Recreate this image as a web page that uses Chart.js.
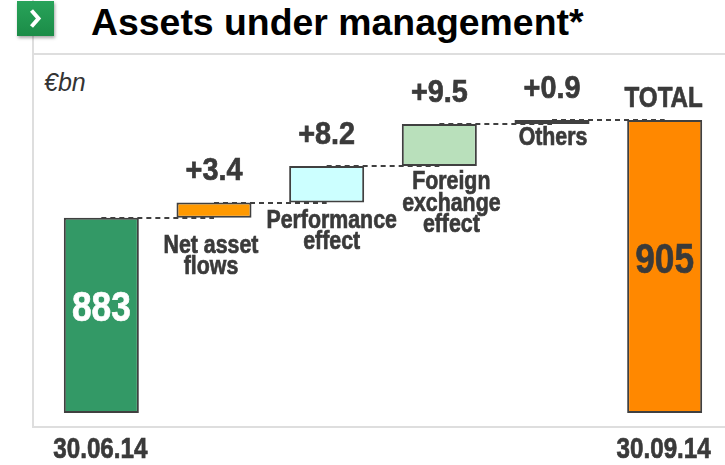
<!DOCTYPE html>
<html>
<head>
<meta charset="utf-8">
<script src="https://cdn.jsdelivr.net/npm/chart.js@4"></script>
<style>
  body { margin: 0; background: #fff; }
  #wrap { position: relative; width: 725px; height: 465px; overflow: hidden; font-family: "Liberation Sans", Arial, sans-serif; }
  .frame { position: absolute; background: #dedede; }
  #icon {
    position: absolute; left: 17px; top: 1px; width: 37px; height: 35px;
    background: linear-gradient(#28a35a, #1b8c47);
    box-shadow: 1px 2px 3px rgba(0,0,0,0.35);
  }
  #title { position: absolute; left: 91px; top: 1px; font-weight: bold; font-size: 37.4px; color: #000; white-space: nowrap; }
  #unit { position: absolute; left: 44px; top: 68px; font-style: italic; font-size: 25px; color: #333; }
  canvas { position: absolute; left: 0; top: 0; }
</style>
</head>
<body>
<div id="wrap">
  <div class="frame" style="left:32px;top:0;width:2px;height:428px"></div>
  <div class="frame" style="left:32px;top:53px;width:693px;height:2px"></div>
  <div class="frame" style="left:32px;top:426px;width:693px;height:2px"></div>
  <div id="icon"><svg width="37" height="35"><polyline points="14.5,9.5 21.5,17.5 14.5,25.5" fill="none" stroke="#fff" stroke-width="4"/></svg></div>
  <div id="title">Assets under management*</div>
  <div id="unit">€bn</div>
  <canvas id="myChart" width="725" height="465"></canvas>
</div>
<script>
// waterfall data
const categories = ["30.06.14", "Net asset flows", "Performance effect", "Foreign exchange effect", "Others", "30.09.14"];
const steps = [883, 3.4, 8.2, 9.5, 0.9, 905];
const totalBars = [true, false, false, false, false, true];
const topLabels = ["", "+3.4", "+8.2", "+9.5", "+0.9", "TOTAL"];
const nameLines = [[], ["Net asset", "flows"], ["Performance", "effect"], ["Foreign", "exchange", "effect"], ["Others"], []];
const axisMin = 839;
const axisMax = 918.5;

// styles
const barColors = ["#339966", "#ff9900", "#ccffff", "#b9e0bb", "#ff9900", "#ff8800"];
const nameGap = [0, 28, 18, 16, 14, 0];
const nameNudge = [0, -3, 5, 12, 1, 0];
const textColor = "#3a3a3a";

// no Arial Narrow here, so squeeze Liberation Sans bold instead
function fillNarrow(ctx, text, x, y, size, squeeze) {
  ctx.save();
  ctx.translate(x, y);
  ctx.scale(squeeze, 1);
  ctx.font = "bold " + size + 'px "Liberation Sans", Arial, sans-serif';
  ctx.strokeStyle = ctx.fillStyle;
  ctx.lineWidth = 0.7;
  ctx.fillText(text, 0, 0);
  ctx.strokeText(text, 0, 0);
  ctx.restore();
}

// build floating ranges from the steps
const ranges = [];
let running = 0;
steps.forEach((v, i) => {
  if (totalBars[i]) {
    ranges.push([axisMin, v]);
    running = v;
  } else {
    ranges.push([running, running + v]);
    running += v;
  }
});

const connectors = {
  id: "connectors",
  beforeDatasetsDraw(chart) {
    const ctx = chart.ctx;
    const bars = chart.getDatasetMeta(0).data;
    const y = chart.scales.y;
    ctx.save();
    ctx.strokeStyle = "#404040";
    ctx.lineWidth = 2;
    ctx.setLineDash([5, 4]);
    for (let i = 0; i < bars.length - 1; i++) {
      const py = Math.round(y.getPixelForValue(ranges[i][1]));
      ctx.beginPath();
      ctx.moveTo(bars[i].x, py);
      ctx.lineTo(bars[i + 1].x, py);
      ctx.stroke();
    }
    ctx.restore();
  },
};

const barText = {
  id: "barText",
  afterDatasetsDraw(chart) {
    const ctx = chart.ctx;
    const bars = chart.getDatasetMeta(0).data;
    ctx.save();
    ctx.textAlign = "center";
    ctx.textBaseline = "middle";
    ctx.fillStyle = textColor;
    bars.forEach((bar, i) => {
      if (totalBars[i]) {
        // big value inside the bar
        ctx.fillStyle = i == 0 ? "#ffffff" : textColor;
        fillNarrow(ctx, String(steps[i]), bar.x, i == 0 ? 309 : 261, 43, 0.82);
        ctx.fillStyle = textColor;
        // date under the frame
        fillNarrow(ctx, categories[i], bar.x - 1, 450, 29.5, 0.82);
        if (topLabels[i]) {
          fillNarrow(ctx, topLabels[i], bar.x - 1, bar.y - 21, 29.5, 0.82);
        }
      } else {
        fillNarrow(ctx, topLabels[i], bar.x, bar.y - 31, 32, 0.9);
        nameLines[i].forEach((line, k) => {
          fillNarrow(ctx, line, bar.x + nameNudge[i], bar.base + nameGap[i] + k * 21.5, 26, 0.82);
        });
      }
    });
    ctx.restore();
  },
};

const config = {
  type: "bar",
  data: {
    labels: categories,
    datasets: [
      {
        data: ranges,
        backgroundColor: barColors,
        borderColor: "#404040",
        borderWidth: 2,
        borderSkipped: false,
        categoryPercentage: 1,
        barPercentage: 0.666,
      },
    ],
  },
  options: {
    responsive: false,
    animation: false,
    devicePixelRatio: 1,
    layout: { padding: { left: 45, right: 4, top: 60, bottom: 52 } },
    plugins: {
      legend: { display: false },
      tooltip: { enabled: false },
      title: { display: false },
    },
    scales: {
      x: { display: false },
      y: { display: false, min: axisMin, max: axisMax },
    },
  },
  plugins: [connectors, barText],
};

myChart = new Chart("myChart", config);
</script>
</body>
</html>
